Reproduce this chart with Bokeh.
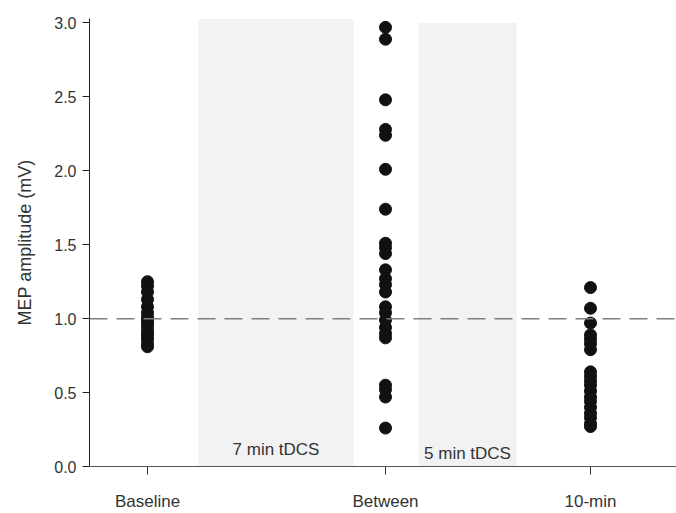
from bokeh.plotting import figure
from bokeh.models import Span, FixedTicker, Range1d
from bokeh.core.properties import value
from bokeh.embed import file_html
from bokeh.resources import INLINE

# categories and their positions on the time axis
timepoints = ["Baseline", "Between", "10-min"]
timepoint_x = [5.8, 29.6, 50.1]

# MEP amplitudes (mV) per time point
baseline_mep = [1.25, 1.22, 1.18, 1.13, 1.08, 1.04, 1.01, 0.99, 0.97, 0.95,
                0.92, 0.90, 0.88, 0.86, 0.83, 0.81]
between_mep = [2.97, 2.89, 2.48, 2.28, 2.24, 2.01, 1.74, 1.51, 1.48, 1.44,
               1.33, 1.27, 1.23, 1.18, 1.08, 1.04, 0.99, 0.94, 0.90, 0.87,
               0.55, 0.52, 0.47, 0.26]
tenmin_mep = [1.21, 1.07, 0.97, 0.89, 0.86, 0.83, 0.79, 0.64, 0.61, 0.58,
              0.55, 0.51, 0.47, 0.44, 0.40, 0.36, 0.33, 0.29, 0.27]

# stimulation periods
tdcs_labels = ["7 min tDCS", "5 min tDCS"]
tdcs_start = [10.9, 32.9]
tdcs_end = [26.4, 42.7]
tdcs_top = [3.03, 3.0]
tdcs_bottom = [0.0, -0.03]
tdcs_label_y = [0.115, 0.085]

reference_level = 1.0

FONT = "Liberation Sans"

p = figure(width=676, height=513, output_backend="svg", toolbar_location=None,
           x_range=Range1d(0, 58.7), y_range=Range1d(0, 3.03),
           min_border_left=89, min_border_right=0, min_border_top=18,
           min_border_bottom=45)
p.outline_line_color = None
p.grid.visible = False
p.background_fill_color = "white"

# shaded stimulation periods
p.quad(left=tdcs_start, right=tdcs_end, top=tdcs_top, bottom=tdcs_bottom,
       fill_color="#f2f2f2", line_color=None)
p.text(x=[(a + b) / 2 for a, b in zip(tdcs_start, tdcs_end)], y=tdcs_label_y,
       text=tdcs_labels, text_font=value(FONT), text_font_size="17px",
       text_color="#333333", text_align="center", text_baseline="middle")

# reference line
p.add_layout(Span(location=reference_level, dimension="width",
                  line_color="#7f7f7f", line_width=1.5, line_dash="18 9"))

# points
for xpos, vals in zip(timepoint_x, [baseline_mep, between_mep, tenmin_mep]):
    p.scatter(x=[xpos] * len(vals), y=vals, size=12, color="#111111")

# y axis
p.yaxis.axis_label = "MEP amplitude (mV)"
p.yaxis.axis_label_text_font = FONT
p.yaxis.axis_label_text_font_size = "18px"
p.yaxis.axis_label_text_font_style = "normal"
p.yaxis.axis_label_text_color = "#333333"
p.yaxis.axis_label_standoff = 16
p.yaxis.ticker = FixedTicker(ticks=[0, 0.5, 1.0, 1.5, 2.0, 2.5, 3.0])
p.yaxis.major_label_overrides = {0: "0.0", 0.5: "0.5", 1.0: "1.0", 1.5: "1.5",
                                 2.0: "2.0", 2.5: "2.5", 3.0: "3.0"}
p.yaxis.major_label_text_font = FONT
p.yaxis.major_label_text_font_size = "16px"
p.yaxis.major_label_text_color = "#333333"
p.yaxis.major_label_standoff = 6
p.yaxis.axis_line_color = "#222222"
p.yaxis.major_tick_line_color = "#222222"
p.yaxis.major_tick_out = 7
p.yaxis.major_tick_in = 0
p.yaxis.minor_tick_line_color = None

# x axis
p.xaxis.ticker = FixedTicker(ticks=timepoint_x)
p.xaxis.major_label_overrides = {x: t for x, t in zip(timepoint_x, timepoints)}
p.xaxis.major_label_text_font = FONT
p.xaxis.major_label_text_font_size = "17px"
p.xaxis.major_label_text_color = "#333333"
p.xaxis.major_label_standoff = 17
p.xaxis.axis_line_color = "#555555"
p.xaxis.major_tick_line_color = "#333333"
p.xaxis.major_tick_out = 8
p.xaxis.major_tick_in = 0
p.xaxis.minor_tick_line_color = None

open("out.html", "w").write(file_html(p, INLINE))
